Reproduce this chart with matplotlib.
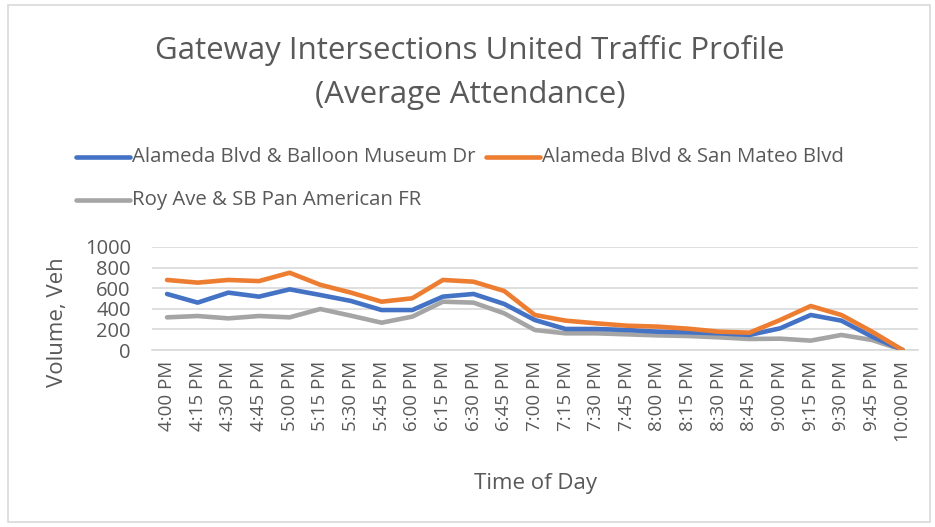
import matplotlib
matplotlib.use("Agg")
import matplotlib.pyplot as plt
from matplotlib.patches import Rectangle

plt.rcParams['font.family'] = ['Open Sans', 'DejaVu Sans']

times = ["4:00 PM", "4:15 PM", "4:30 PM", "4:45 PM", "5:00 PM", "5:15 PM",
         "5:30 PM", "5:45 PM", "6:00 PM", "6:15 PM", "6:30 PM", "6:45 PM",
         "7:00 PM", "7:15 PM", "7:30 PM", "7:45 PM", "8:00 PM", "8:15 PM",
         "8:30 PM", "8:45 PM", "9:00 PM", "9:15 PM", "9:30 PM", "9:45 PM",
         "10:00 PM"]

balloon_museum = [544, 460, 557, 518, 589, 534, 476, 388, 388, 518, 544, 447,
                  291, 204, 204, 194, 178, 172, 162, 146, 210, 340, 285, 130, 0]
san_mateo = [680, 654, 680, 669, 750, 633, 557, 469, 502, 680, 663, 573,
             340, 285, 259, 236, 227, 207, 178, 168, 291, 427, 340, 178, 0]
roy_ave = [317, 330, 307, 330, 317, 398, 333, 265, 324, 469, 460, 356,
           194, 162, 162, 152, 142, 136, 123, 107, 110, 91, 146, 97, 0]

series_names = ["Alameda Blvd & Balloon Museum Dr",
                "Alameda Blvd & San Mateo Blvd",
                "Roy Ave & SB Pan American FR"]
y_ticks = [0, 200, 400, 600, 800, 1000]

text_color = "#595959"
W, H = 935, 527
fig = plt.figure(figsize=(W / 100, H / 100), dpi=100)
fig.patch.set_facecolor("white")

# outer chart frame
fig.patches.append(Rectangle((8 / W, 1 - 522 / H), (930 - 8) / W, (522 - 5) / H,
                             transform=fig.transFigure, fill=False,
                             edgecolor="#d9d9d9", linewidth=1.2))

left, right = 151.7 / W, 918 / W
bottom, top = 1 - 350 / H, 1 - 247 / H
ax = fig.add_axes([left, bottom, right - left, top - bottom])

x = list(range(len(times)))
l1, = ax.plot(x, balloon_museum, color="#4472c4", linewidth=3.3,
              solid_capstyle="round", solid_joinstyle="round", zorder=3)
l2, = ax.plot(x, san_mateo, color="#ed7d31", linewidth=3.3,
              solid_capstyle="round", solid_joinstyle="round", zorder=3)
l3, = ax.plot(x, roy_ave, color="#a5a5a5", linewidth=3.3,
              solid_capstyle="round", solid_joinstyle="round", zorder=2)

ax.set_xlim(-0.5, len(times) - 0.5)
ax.set_ylim(0, 1000)
ax.set_yticks(y_ticks)
ax.set_yticklabels([str(v) for v in y_ticks])
ax.set_xticks(x)
ax.set_xticklabels(times, rotation=90)
ax.grid(axis="y", color="#d9d9d9", linewidth=1.2)
ax.set_axisbelow(True)
for s in ["top", "right", "left"]:
    ax.spines[s].set_visible(False)
ax.spines["bottom"].set_color("#d9d9d9")
ax.spines["bottom"].set_linewidth(1.2)
ax.tick_params(axis="both", length=0, colors=text_color)
ax.tick_params(axis="x", pad=8, labelsize=13.5)
ax.tick_params(axis="y", pad=15, labelsize=14.5)

fig.text(58 / W, 1 - 322 / H, "Volume, Veh", rotation=90, ha="center",
         va="center", fontsize=16, color=text_color)
fig.text(535 / W, 1 - 483 / H, "Time of Day", ha="center", va="center",
         fontsize=16, color=text_color)

fig.text(470 / W, 1 - 50 / H, "Gateway Intersections United Traffic Profile",
         ha="center", va="center", fontsize=22.5, color=text_color)
fig.text(470 / W, 1 - 95 / H, "(Average Attendance)",
         ha="center", va="center", fontsize=22.5, color=text_color)

# legend entries laid out in two rows
def legend_entry(xh0, y, line, label):
    fig.lines.append(plt.Line2D([xh0 / W, (xh0 + 54) / W], [1 - y / H, 1 - y / H],
                                transform=fig.transFigure, color=line.get_color(),
                                linewidth=3.3, solid_capstyle="round"))
    fig.text((xh0 + 56) / W, 1 - y / H, label, ha="left", va="center",
             fontsize=14.7, color=text_color)

legend_entry(76, 157, l1, series_names[0])
legend_entry(486, 157, l2, series_names[1])
legend_entry(76, 200, l3, series_names[2])

fig.savefig("out.png", dpi=100, facecolor="white")
